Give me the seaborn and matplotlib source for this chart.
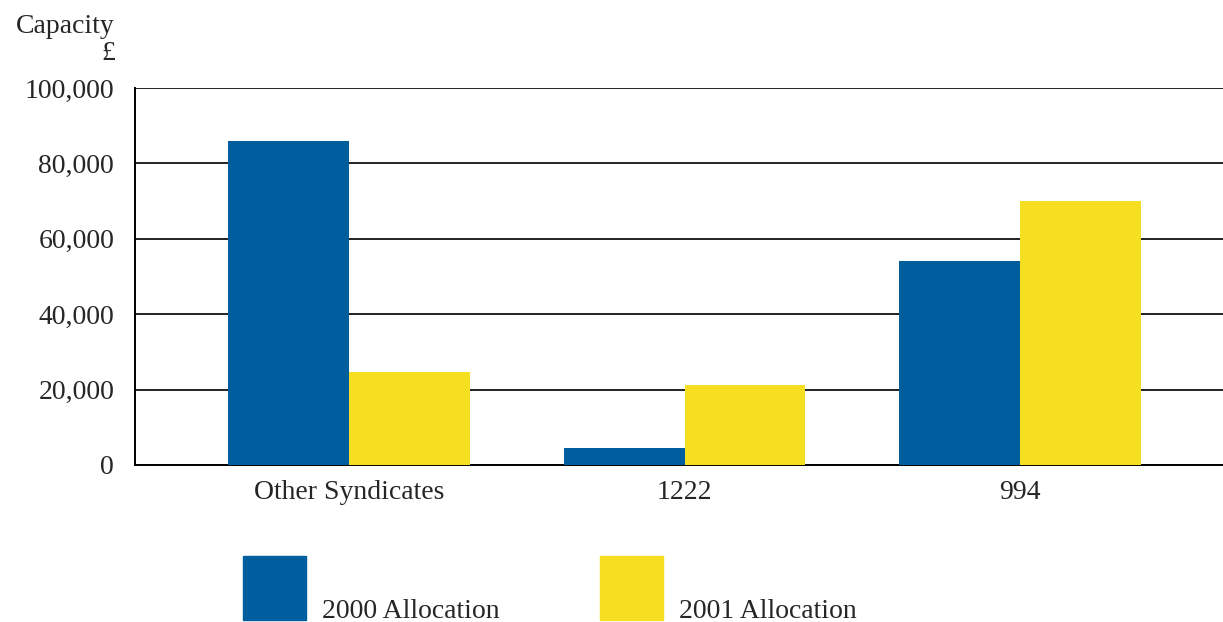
import matplotlib
matplotlib.use("Agg")
import matplotlib.pyplot as plt
from matplotlib.patches import Rectangle
import seaborn as sns
import pandas as pd

# data
syndicates = ["Other Syndicates", "1222", "994"]
alloc_2000 = [86000, 4500, 54100]
alloc_2001 = [24700, 21200, 70000]
series_names = ["2000 Allocation", "2001 Allocation"]
colors = ["#005E9E", "#F6DF20"]

df = pd.DataFrame({
    "syndicate": syndicates * 2,
    "capacity": alloc_2000 + alloc_2001,
    "series": [series_names[0]] * 3 + [series_names[1]] * 3,
})

sns.set_style("white")
plt.rcParams["font.family"] = ["Liberation Serif", "DejaVu Serif"]
fs = 20

fig = plt.figure(figsize=(12.23, 6.22), dpi=100)
ax = fig.add_axes([135 / 1223, 1 - 465 / 622, 1 - 135 / 1223, (465 - 88) / 622])

sns.barplot(data=df, x="syndicate", y="capacity", hue="series",
            palette=colors, width=0.72, gap=0, saturation=1,
            linewidth=0, ax=ax, legend=False, zorder=3)

ax.set_ylim(0, 100000)
ax.set_xlim(-0.637, 2.604)
ax.set_yticks(range(0, 100001, 20000))
ax.set_yticklabels([f"{v:,}" for v in range(0, 100001, 20000)])
ax.yaxis.grid(True, color="#222222", linewidth=1.4, zorder=0)
ax.set_axisbelow(True)
for s in ["top", "right"]:
    ax.spines[s].set_visible(False)
for s in ["left", "bottom"]:
    ax.spines[s].set_color("black")
    ax.spines[s].set_linewidth(1.4)
ax.tick_params(axis="y", length=9, width=1.2, color="black", pad=6, labelsize=fs)
ax.tick_params(axis="x", length=0, pad=11, labelsize=fs)
ax.set_xlabel("")
ax.set_ylabel("")

fig.text(115 / 1223, 1 - 33 / 622, "Capacity", ha="right", va="baseline", fontsize=fs)
fig.text(115 / 1223, 1 - 60 / 622, "£", ha="right", va="baseline", fontsize=fs)

# legend: tall square swatch with label sitting at its bottom
legend_x = [243, 600]
for i, name in enumerate(series_names):
    x0 = legend_x[i]
    fig.add_artist(Rectangle((x0 / 1223, 1 - 620 / 622), 63 / 1223, 64 / 622,
                             transform=fig.transFigure, color=colors[i]))
    fig.text((x0 + 79) / 1223, 1 - 618 / 622, name, ha="left", va="baseline",
             fontsize=fs)

fig.savefig("out.png", dpi=100)
